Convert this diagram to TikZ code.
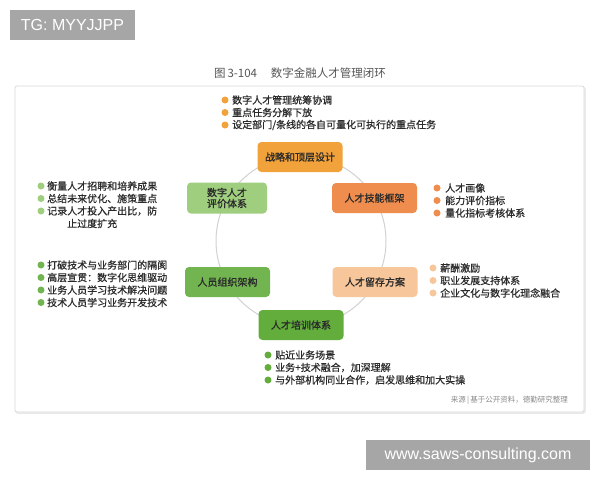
\documentclass[tikz,border=0pt]{standalone}
\usepackage{fontspec}
\setmainfont{Noto Sans CJK SC}
\newfontfamily\listfont[FakeBold=0.6]{Noto Sans CJK SC}
\newfontfamily\boxfont[FakeBold=1.2]{Noto Sans CJK SC}
\newfontfamily\latinsans{Liberation Sans}
\definecolor{wmgray}{HTML}{A6A6A6}
\definecolor{framec}{HTML}{DADADA}
\definecolor{ringc}{HTML}{D2D2D2}
\definecolor{txt}{HTML}{2A2A2A}
\definecolor{titlec}{HTML}{555555}
\definecolor{srcc}{HTML}{8A8A8A}
\definecolor{cTop}{HTML}{F2A23A}
\definecolor{cSkill}{HTML}{EE8D4E}
\definecolor{cKeep}{HTML}{F7C79B}
\definecolor{cEval}{HTML}{9FCE7F}
\definecolor{cOrg}{HTML}{72B550}
\definecolor{cTrain}{HTML}{62AD3C}
\begin{document}
\begin{tikzpicture}[x=1pt,y=-1pt,
  wm/.style={fill=wmgray,text=white,font=\latinsans\fontsize{16}{16}\selectfont,inner sep=0pt},
  box/.style={rounded corners=4pt,minimum width=85pt,minimum height=30pt,inner sep=2pt,
    align=center,text=txt,font=\boxfont\fontsize{10}{12}\selectfont},
  item/.style={anchor=west,inner sep=0pt,text=txt,font=\listfont\fontsize{10}{12}\selectfont},
  dot/.style={circle,inner sep=0pt,minimum size=7pt}]
\useasboundingbox (0,0) rectangle (600,480);
\fill[white] (0,0) rectangle (600,480);
% watermarks
\node[wm,minimum width=125pt,minimum height=30pt] (tg) at (72.5,25) {TG: MYYJJPP};
\node[wm,minimum width=224pt,minimum height=30pt] (web) at (478,455) {www.saws-consulting.com};
% title and frame
\node[text=titlec,font=\fontsize{11.5}{12}\selectfont,inner sep=0pt] (title) at (300,73) {图\,3-104\hspace{1.2em}数字金融人才管理闭环};
\draw[framec!60,line width=1.5pt,rounded corners=2pt] (16,87.5) rectangle (585,413);
\draw[framec,line width=0.8pt,fill=white,rounded corners=2pt] (15,86) rectangle (584,412);
\node[text=srcc,font=\fontsize{7.5}{9}\selectfont,anchor=east,inner sep=0pt] (src) at (568,400) {来源\,|\,基于公开资料，德勤研究整理};
% ring
\coordinate (ctr) at (301,241);
\draw[ringc,line width=1pt] (ctr) circle (85pt);
% boxes
\node[box,fill=cTop] (top) at (300,157) {战略和顶层设计};
\node[box,fill=cSkill] (skill) at (374.5,198) {人才技能框架};
\node[box,fill=cKeep] (keep) at (375,282) {人才留存方案};
\node[box,fill=cTrain] (train) at (301,325) {人才培训体系};
\node[box,fill=cOrg] (org) at (227.5,282) {人员组织架构};
\node[box,fill=cEval,minimum width=80pt,minimum height=31pt] (eval) at (227,198) {数字人才\\[-1pt]评价体系};
% top list
\node[dot,fill=cTop] (tb1) at (225,100) {};
\node[dot,fill=cTop] (tb2) at (225,112.5) {};
\node[dot,fill=cTop] (tb3) at (225,125) {};
\node[item] (tl1) at (232,100) {数字人才管理统筹协调};
\node[item] (tl2) at (232,112.5) {重点任务分解下放};
\node[item] (tl3) at (232,125) {设定部门/条线的各自可量化可执行的重点任务};
% left-top list
\node[dot,fill=cEval] (lb1) at (41,186) {};
\node[dot,fill=cEval] (lb2) at (41,198.5) {};
\node[dot,fill=cEval] (lb3) at (41,211) {};
\node[item] (ll1) at (47,186) {衡量人才招聘和培养成果};
\node[item] (ll2) at (47,198.5) {总结未来优化、施策重点};
\node[item] (ll3) at (47,211) {记录人才投入产出比，防};
\node[item] (ll4) at (67,223.5) {止过度扩充};
% right-top list
\node[dot,fill=cSkill] (rb1) at (437,188) {};
\node[dot,fill=cSkill] (rb2) at (437,200.5) {};
\node[dot,fill=cSkill] (rb3) at (437,213) {};
\node[item] (rl1) at (445,188) {人才画像};
\node[item] (rl2) at (445,200.5) {能力评价指标};
\node[item] (rl3) at (445,213) {量化指标考核体系};
% left-bottom list
\node[dot,fill=cOrg] (ob1) at (41,265) {};
\node[dot,fill=cOrg] (ob2) at (41,277.5) {};
\node[dot,fill=cOrg] (ob3) at (41,290) {};
\node[dot,fill=cOrg] (ob4) at (41,302.5) {};
\node[item] (ol1) at (47,265) {打破技术与业务部门的隔阂};
\node[item] (ol2) at (47,277.5) {高层宣贯：数字化思维驱动};
\node[item] (ol3) at (47,290) {业务人员学习技术解决问题};
\node[item] (ol4) at (47,302.5) {技术人员学习业务开发技术};
% right-bottom list
\node[dot,fill=cKeep] (kb1) at (433,268) {};
\node[dot,fill=cKeep] (kb2) at (433,280.5) {};
\node[dot,fill=cKeep] (kb3) at (433,293) {};
\node[item] (kl1) at (440,268) {薪酬激励};
\node[item] (kl2) at (440,280.5) {职业发展支持体系};
\node[item] (kl3) at (440,293) {企业文化与数字化理念融合};
% bottom list
\node[dot,fill=cTrain] (bb1) at (268,355) {};
\node[dot,fill=cTrain] (bb2) at (268,367.5) {};
\node[dot,fill=cTrain] (bb3) at (268,380) {};
\node[item] (bl1) at (275,355) {贴近业务场景};
\node[item] (bl2) at (275,367.5) {业务+技术融合，加深理解};
\node[item] (bl3) at (275,380) {与外部机构同业合作，启发思维和加大实操};
\end{tikzpicture}
\end{document}
